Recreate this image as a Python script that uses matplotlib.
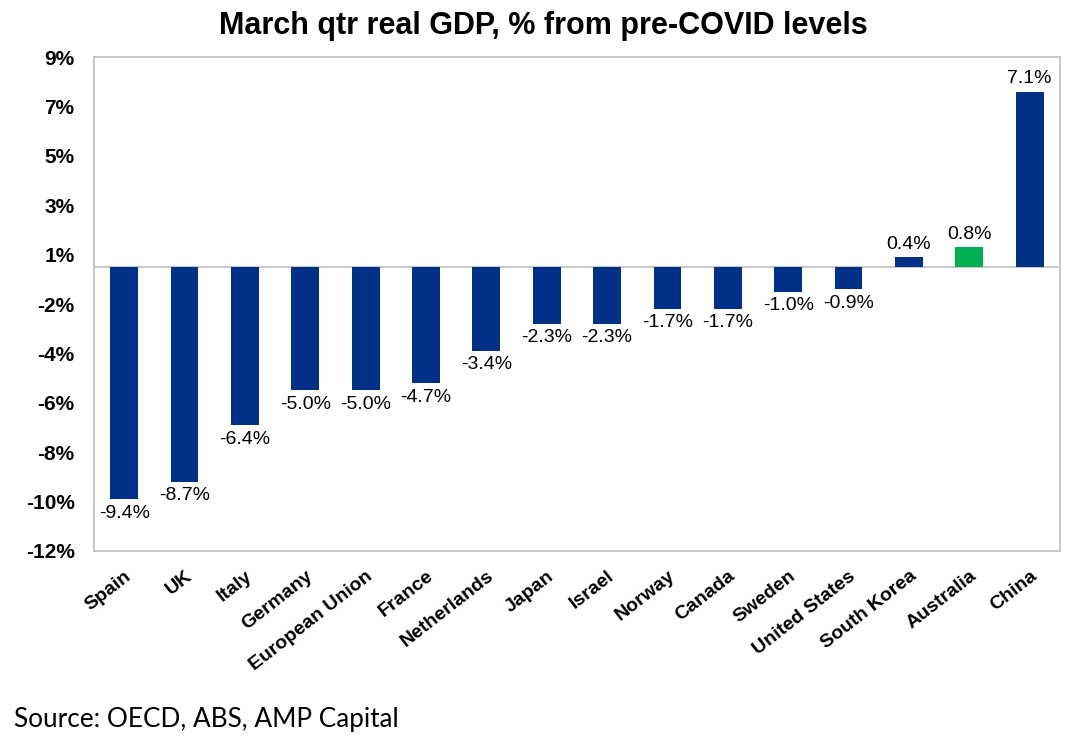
import numpy as np
import matplotlib
matplotlib.use("Agg")
import matplotlib.pyplot as plt

countries = ["Spain", "UK", "Italy", "Germany", "European Union", "France",
             "Netherlands", "Japan", "Israel", "Norway", "Canada", "Sweden",
             "United States", "South Korea", "Australia", "China"]
gdp_change = [-9.4, -8.7, -6.4, -5.0, -5.0, -4.7, -3.4, -2.3, -2.3, -1.7,
              -1.7, -1.0, -0.9, 0.4, 0.8, 7.1]
highlight = "Australia"

y_ticks = [-11.5, -9.5, -7.5, -5.5, -3.5, -1.5, 0.5, 2.5, 4.5, 6.5, 8.5]
y_tick_labels = ["-12%", "-10%", "-8%", "-6%", "-4%", "-2%", "1%", "3%",
                 "5%", "7%", "9%"]

NAVY = "#003087"
GREEN = "#00B050"
GREY = "#BFBFBF"

plt.rcParams["font.family"] = ["Liberation Sans", "DejaVu Sans"]

fig = plt.figure(figsize=(10.87, 7.55), dpi=100)
ax = fig.add_axes([0.0865, 0.2702, 0.975 - 0.0865, 0.9245 - 0.2702])

x = np.arange(len(countries))
colors = [GREEN if c == highlight else NAVY for c in countries]
ax.bar(x, gdp_change, width=0.46, color=colors, zorder=2)

ax.axhline(0, color=GREY, linewidth=1.2, zorder=1)

for xi, v in zip(x, gdp_change):
    if v < 0:
        ax.annotate(f"{v:.1f}%", (xi, v), xytext=(0, -4),
                    textcoords="offset points", ha="center", va="top",
                    fontsize=14)
    else:
        ax.annotate(f"{v:.1f}%", (xi, v), xytext=(0, 3),
                    textcoords="offset points", ha="center", va="bottom",
                    fontsize=14)

ax.set_xlim(-0.5, len(countries) - 0.5)
ax.set_ylim(-11.5, 8.5)
ax.set_yticks(y_ticks)
ax.set_yticklabels(y_tick_labels, fontsize=15, fontweight="bold")
ax.set_xticks(x)
ax.set_xticklabels(countries, rotation=38, ha="right", va="top",
                   rotation_mode="anchor", fontsize=14, fontweight="bold")
ax.tick_params(axis="y", length=0, pad=14)
ax.tick_params(axis="x", length=0, pad=12)

for s in ax.spines.values():
    s.set_color(GREY)
    s.set_linewidth(1.2)

fig.text(0.5, 0.966, "March qtr real GDP, % from pre-COVID levels",
         ha="center", va="center", fontsize=22, fontweight="bold")
fig.text(0.013, 0.047, "Source: OECD, ABS, AMP Capital",
         ha="left", va="center", fontsize=18.8, family=["Lato", "DejaVu Sans"])

fig.savefig("out.png", dpi=100)
